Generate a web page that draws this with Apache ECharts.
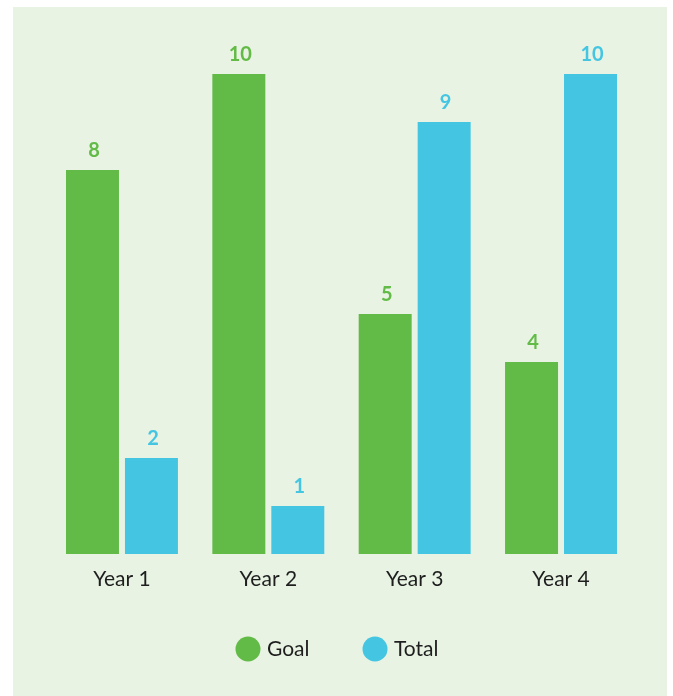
<!DOCTYPE html>
<html>
<head>
<meta charset="utf-8">
<script src="https://cdn.jsdelivr.net/npm/echarts@6/dist/echarts.min.js"></script>
<style>
  html, body { margin: 0; padding: 0; background: #ffffff; }
  #chart { position: absolute; left: 13px; top: 7px; width: 654px; height: 689px; }
</style>
</head>
<body>
<div id="chart"></div>
<script>
// Categories and series values
const categories = ['Year 1', 'Year 2', 'Year 3', 'Year 4'];
const goalValues = [8, 10, 5, 4];
const totalValues = [2, 1, 9, 10];

const GREEN = '#63BB47';
const BLUE = '#44C6E3';
const FONT = 'Lato';

const chart = echarts.init(document.getElementById('chart'));

function barSeries(name, data, color) {
  return {
    name: name,
    type: 'bar',
    data: data,
    barGap: '11.3%',
    barCategoryGap: '23.5%',
    itemStyle: { color: color },
    label: {
      show: true,
      position: 'top',
      distance: 9,
      offset: [1.5, 0],
      color: color,
      fontFamily: FONT,
      fontWeight: 'bold',
      fontSize: 20
    }
  };
}

chart.setOption({
  backgroundColor: '#E8F3E3',
  animation: false,
  grid: { left: 35.8, right: 32.8, top: 67, bottom: 142 },
  xAxis: {
    type: 'category',
    data: categories,
    axisLine: { show: false },
    axisTick: { show: false },
    axisLabel: {
      margin: 15,
      color: '#1e1e1e',
      fontFamily: FONT,
      fontSize: 21
    }
  },
  yAxis: {
    type: 'value',
    min: 0,
    max: 10,
    show: false,
    splitLine: { show: false }
  },
  legend: {
    data: ['Goal', 'Total'],
    top: 629.5,
    left: 222.5,
    padding: 0,
    icon: 'circle',
    itemWidth: 25,
    itemHeight: 25,
    itemGap: 53,
    textStyle: {
      color: '#1e1e1e',
      fontFamily: FONT,
      fontSize: 21,
      width: 46,
      padding: [0, 0, 0, 1.5]
    }
  },
  series: [
    barSeries('Goal', goalValues, GREEN),
    barSeries('Total', totalValues, BLUE)
  ]
});
</script>
</body>
</html>
